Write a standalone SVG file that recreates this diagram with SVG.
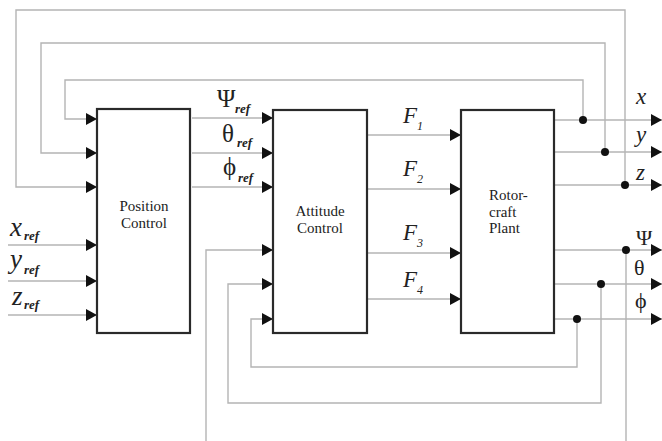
<svg xmlns="http://www.w3.org/2000/svg" width="662" height="441" viewBox="0 0 662 441">
<style>
.box{fill:#fff;stroke:#2a2a2a;stroke-width:2.2}
.ln{fill:none;stroke:#b4b4b4;stroke-width:1.4}
.ar{marker-end:url(#arr)}
.dot{fill:#111}
text{font-family:'Liberation Serif','DejaVu Serif','Times New Roman',serif;fill:#222}
.bt{font-size:15px}
.it{font-style:italic}
.sub{font-style:italic;font-weight:bold;font-size:13px}
</style>
<defs>
<marker id="arr" markerUnits="userSpaceOnUse" markerWidth="11" markerHeight="12" refX="11" refY="6" orient="auto">
<path d="M0,0 L11,6 L0,12 z" fill="#111"/>
</marker>
</defs>
<rect width="662" height="441" fill="#fff"/>
<g id="connectors">
<path class="ln ar" d="M625,185 V10 H16 V187 H97"/>
<path class="ln ar" d="M605,152 V43 H41 V153 H97"/>
<path class="ln ar" d="M583,120 V80 H65 V119 H97"/>
<path class="ln ar" d="M8,245 H97"/>
<path class="ln ar" d="M8,281 H97"/>
<path class="ln ar" d="M8,315 H97"/>
<path class="ln ar" d="M192,118 H273"/>
<path class="ln ar" d="M192,153 H273"/>
<path class="ln ar" d="M192,187 H273"/>
<path class="ln ar" d="M368,135 H461"/>
<path class="ln ar" d="M368,189 H461"/>
<path class="ln ar" d="M368,253 H461"/>
<path class="ln ar" d="M368,299 H461"/>
<path class="ln ar" d="M554,120 H662"/>
<path class="ln ar" d="M554,152 H662"/>
<path class="ln ar" d="M554,185 H662"/>
<path class="ln ar" d="M554,250 H662"/>
<path class="ln ar" d="M554,284 H662"/>
<path class="ln ar" d="M554,319 H662"/>
<path class="ln" d="M626,250 V441"/>
<path class="ln ar" d="M206,441 V250 H273"/>
<path class="ln ar" d="M601,284 V403 H228 V284 H273"/>
<path class="ln ar" d="M577,319 V367 H251 V319 H273"/>
<circle class="dot" cx="583" cy="120" r="4"/>
<circle class="dot" cx="605" cy="152" r="4"/>
<circle class="dot" cx="625" cy="185" r="4"/>
<circle class="dot" cx="626" cy="250" r="4"/>
<circle class="dot" cx="601" cy="284" r="4"/>
<circle class="dot" cx="577" cy="319" r="4"/>
</g>
<g id="position-control">
<rect class="box" x="97" y="109" width="93" height="224"/>
<text class="bt" x="144" y="211" text-anchor="middle">Position</text>
<text class="bt" x="144" y="228" text-anchor="middle">Control</text>
</g>
<g id="attitude-control">
<rect class="box" x="273" y="110" width="94" height="223"/>
<text class="bt" x="320" y="216" text-anchor="middle">Attitude</text>
<text class="bt" x="320" y="233" text-anchor="middle">Control</text>
</g>
<g id="rotorcraft-plant">
<rect class="box" x="461" y="110" width="93" height="223"/>
<text class="bt" x="489" y="200">Rotor-</text>
<text class="bt" x="489" y="217">craft</text>
<text class="bt" x="489" y="233">Plant</text>
</g>
<g id="labels">
<text class="it" x="10" y="236" font-size="27">x</text><text class="sub" x="24" y="240">ref</text>
<text class="it" x="10" y="268" font-size="27">y</text><text class="sub" x="24" y="274">ref</text>
<text class="it" x="12" y="305" font-size="27">z</text><text class="sub" x="24" y="309">ref</text>
<text x="217" y="107" font-size="25">Ψ</text><text class="sub" x="235" y="113">ref</text>
<text x="222" y="142" font-size="25">θ</text><text class="sub" x="237" y="147">ref</text>
<text x="223" y="175" font-size="25">ϕ</text><text class="sub" x="238" y="182">ref</text>
<text class="it" x="403" y="123" font-size="23">F</text><text class="it" x="417" y="130" font-size="12">1</text>
<text class="it" x="403" y="176" font-size="23">F</text><text class="it" x="417" y="183" font-size="12">2</text>
<text class="it" x="403" y="240" font-size="23">F</text><text class="it" x="417" y="247" font-size="12">3</text>
<text class="it" x="403" y="287" font-size="23">F</text><text class="it" x="417" y="294" font-size="12">4</text>
<text class="it" x="636" y="104" font-size="23">x</text>
<text class="it" x="636" y="142" font-size="23">y</text>
<text class="it" x="636" y="180" font-size="23">z</text>
<text x="636" y="245" font-size="22">Ψ</text>
<text x="634" y="275" font-size="22">θ</text>
<text x="635" y="308" font-size="22">ϕ</text>
</g>
</svg>
